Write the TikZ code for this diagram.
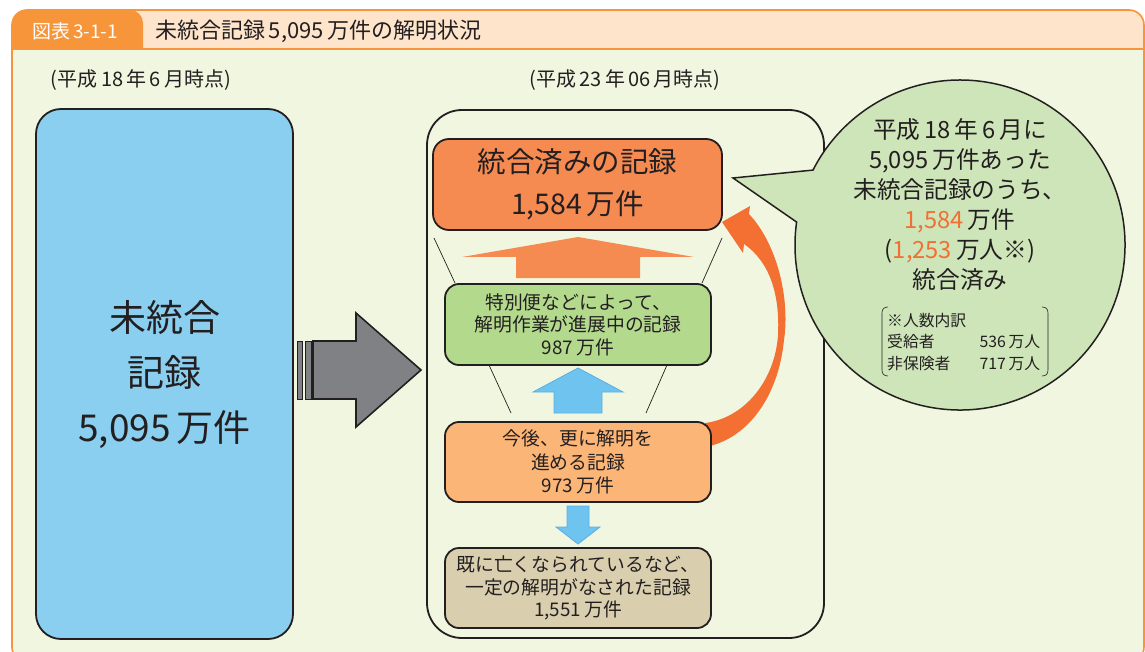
\documentclass[tikz,border=0pt]{standalone}
\usepackage{fontspec}
\setmainfont{Noto Sans CJK JP}
\usetikzlibrary{calc}
\definecolor{bgG}{HTML}{F1F6E0}
\definecolor{peach}{HTML}{FDE4CB}
\definecolor{tabO}{HTML}{F7953A}
\definecolor{blueF}{HTML}{8BCFF0}
\definecolor{dk}{HTML}{231F20}
\definecolor{grayA}{HTML}{808184}
\definecolor{topO}{HTML}{F68B52}
\definecolor{greenB}{HTML}{B3D98D}
\definecolor{lightO}{HTML}{FBB576}
\definecolor{tanB}{HTML}{D9CFAF}
\definecolor{blueA}{HTML}{6EC4EE}
\definecolor{blueAd}{HTML}{5AAFE3}
\definecolor{arcO}{HTML}{F37032}
\definecolor{bubG}{HTML}{CDE5B8}
\definecolor{txtO}{HTML}{F26F33}
\newcommand\fsz[2]{\fontsize{#1}{#2}\selectfont}
\begin{document}
\begin{tikzpicture}[x=1pt,y=-1pt,
  box/.style={draw=dk, line width=1.8pt, rounded corners=14pt, inner sep=0pt, align=center, text=dk},
  blockarrow/.style={draw=blueAd, fill=blueA, line width=0.8pt},
  funnel/.style={draw=dk, line width=0.7pt},
  txt/.style={text=dk, inner sep=0pt, align=center}]
\useasboundingbox (0,0) rectangle (1145,652);
% frame and header
\fill[bgG, rounded corners=15pt] (12,10) rectangle (1144,662);
\fill[peach] (12,49) -- (12,25) arc[start angle=180, end angle=270, radius=15] -- (1129,10) arc[start angle=270, end angle=360, radius=15] -- (1144,49) -- cycle;
\fill[tabO] (12,49) -- (12,25) arc[start angle=180, end angle=270, radius=15] -- (130,10) arc[start angle=270, end angle=360, radius=13] -- (143,49) -- cycle;
\draw[tabO, line width=1.6pt, rounded corners=15pt] (12,10) rectangle (1144,662);
\draw[tabO, line width=1.4pt] (12,49) -- (1144,49);
\node[txt, text=white, font=\fsz{19}{22}] (tabtxt) at (75,31) {図表\,3-1-1};
\node[txt, anchor=west, font=\fsz{22}{25}] (title) at (155,31) {未統合記録\,5,095\,万件の解明状況};
% captions
\node[txt, font=\fsz{20}{22}] (capL) at (141,80) {(平成\,18\,年\,6\,月時点)};
\node[txt, font=\fsz{20}{22}] (capR) at (625,80) {(平成\,23\,年\,06\,月時点)};
% left box
\node[box, fill=blueF, rounded corners=25pt, minimum width=257pt, minimum height=530pt, font=\fsz{37}{55}] (unt) at (164.5,374) {未統合\\記録\\5,095\,万件};
% gray arrow
\draw[dk, fill=grayA, line width=0.9pt] (297,341) rectangle (302,399);
\draw[dk, fill=grayA, line width=0.9pt] (305,341) rectangle (311,399);
\draw[dk, fill=grayA, line width=1.6pt, line join=miter] (313,341) -- (356,341) -- (356,313) -- (421,370) -- (356,427) -- (356,399) -- (313,399) -- cycle;
% right frame
\node[draw=dk, line width=1.8pt, rounded corners=35pt, minimum width=397pt, minimum height=528pt, inner sep=0pt] (frameR) at (625.5,374) {};
% funnel lines
\draw[funnel] (434,238) -- (455,283);
\draw[funnel] (722,238) -- (702,283);
\draw[funnel] (489,365) -- (511,413);
\draw[funnel] (667,365) -- (646,413);
% curved arrow
\fill[arcO] (749,214) .. controls (778,245) and (790,300) .. (784,340) .. controls (778,400) and (745,440) .. (705,447) -- (705,423) .. controls (745,418) and (775,380) .. (778,335) .. controls (780,295) and (770,262) .. (744,244) -- (743,253) -- (722,222) -- (750,206) -- cycle;
% boxes
\node[box, fill=topO, rounded corners=16pt, minimum width=289pt, minimum height=91pt, font=\fsz{28.5}{42}] (done) at (577.5,184.5) {統合済みの記録\\1,584\,万件};
\node[box, fill=greenB, minimum width=266pt, minimum height=81pt, font=\fsz{18.8}{22.5}] (prog) at (578,324.5) {特別便などによって、\\解明作業が進展中の記録\\987\,万件};
\node[box, fill=lightO, minimum width=266pt, minimum height=80pt, font=\fsz{18.8}{23.5}] (fut) at (578,462) {今後、更に解明を\\進める記録\\973\,万件};
\node[box, fill=tanB, minimum width=266pt, minimum height=80pt, font=\fsz{18.8}{22.5}] (dead) at (578,588) {既に亡くなられているなど、\\一定の解明がなされた記録\\1,551\,万件};
% block arrows
\fill[topO] (578,237) -- (694,257) -- (640,257) -- (640,278) -- (516,278) -- (516,257) -- (462,257) -- cycle;
\draw[blockarrow] (578,368) -- (623,392) -- (602,392) -- (602,413) -- (554,413) -- (554,392) -- (533,392) -- cycle;
\draw[blockarrow] (567,506) -- (589,506) -- (589,527) -- (600,527) -- (578,544) -- (556,527) -- (567,527) -- cycle;
% bubble
\draw[dk, fill=bubG, line width=1.5pt, line join=miter] (733,178) -- ($(960,245)+(188:165)$) arc[start angle=188, end angle=-153, radius=165] -- cycle;
\node[txt, font=\fsz{23.7}{30}] (btxt) at (960,205) {平成\,18\,年\,6\,月に\\5,095\,万件あった\\未統合記録のうち、\\\textcolor{txtO}{1,584}\,万件\\(\textcolor{txtO}{1,253}\,万人※)\\統合済み};
\node[txt, anchor=west, align=left, font=\fsz{15.8}{21.5}] (note) at (887,342) {※人数内訳\\\makebox[153pt][l]{受給者\hfill 536\,万人}\\\makebox[153pt][l]{非保険者\hfill 717\,万人}};
\draw[dk, line width=0.6pt] (888,307) .. controls (884,307) and (882,309) .. (882,313) -- (882,370) .. controls (882,374) and (884,376) .. (888,376);
\draw[dk, line width=0.6pt] (1042,307) .. controls (1046,307) and (1048,309) .. (1048,313) -- (1048,370) .. controls (1048,374) and (1046,376) .. (1042,376);
\end{tikzpicture}
\end{document}
